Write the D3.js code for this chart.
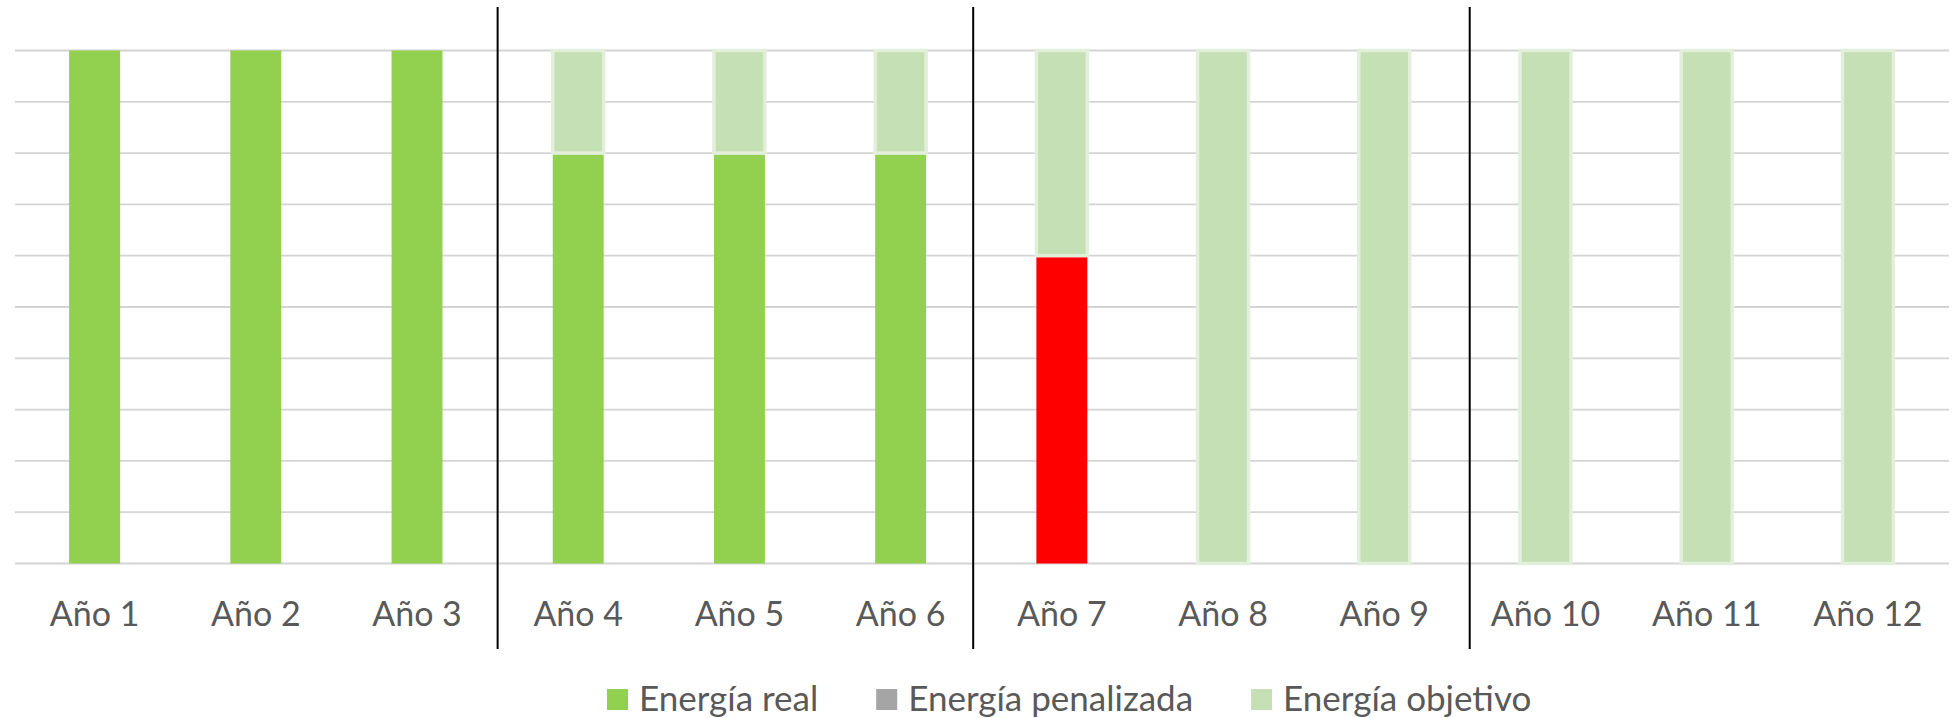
<!DOCTYPE html>
<html>
<head>
<meta charset="utf-8">
<script src="https://cdn.jsdelivr.net/npm/d3@7"></script>
<style>
    body { margin: 0; background: #ffffff; }
    text { font-family: Lato, "Open Sans", sans-serif; fill: #595959; }
</style>
</head>
<body>
<div id="chart"></div>
<script>
// data
var years = ["Año 1", "Año 2", "Año 3", "Año 4", "Año 5", "Año 6",
    "Año 7", "Año 8", "Año 9", "Año 10", "Año 11", "Año 12"];
var energiaReal = [10, 10, 10, 8, 8, 8, 6, 0, 0, 0, 0, 0];
var energiaPenalizada = [0, 0, 0, 0, 0, 0, 0, 0, 0, 0, 0, 0];
var energiaObjetivo = [0, 0, 0, 2, 2, 2, 4, 10, 10, 10, 10, 10];
var yTicks = [0, 1, 2, 3, 4, 5, 6, 7, 8, 9, 10];
// year whose real energy is shown in red
var redYears = ["Año 7"];
// separators between groups, in category steps from the left
var dividers = [3, 5.95, 9.03];
var seriesNames = ["Energía real", "Energía penalizada", "Energía objetivo"];
var seriesColors = ["#92d050", "#a5a5a5", "#c5e0b4"];

var width = 1952,
    height = 718;

var svg = d3.select("#chart")
    .append("svg")
    .attr("width", width)
    .attr("height", height);

// scales
var x = d3.scaleBand()
    .domain(years)
    .range([14, 1948.5])
    .paddingInner(0.684)
    .paddingOuter(0.342);

var y = d3.scaleLinear()
    .domain([0, 10])
    .range([563.5, 50.5]);

// gridlines
svg.append("g")
    .selectAll("line")
    .data(yTicks)
    .enter()
    .append("line")
    .attr("x1", 15)
    .attr("x2", 1949)
    .attr("y1", function (d) { return y(d); })
    .attr("y2", function (d) { return y(d); })
    .attr("stroke", "#d4d4d4")
    .attr("stroke-width", 1.8);

// stack the three series
var table = years.map(function (yr, i) {
    return {
        year: yr,
        real: energiaReal[i],
        penalizada: energiaPenalizada[i],
        objetivo: energiaObjetivo[i]
    };
});
var stack = d3.stack().keys(["real", "penalizada", "objetivo"]);
var layers = stack(table);

var bars = svg.append("g");

// Energía real
bars.selectAll("rect.real")
    .data(layers[0])
    .enter()
    .append("rect")
    .attr("class", "real")
    .attr("x", function (d) { return x(d.data.year); })
    .attr("width", x.bandwidth())
    .attr("y", function (d) { return y(d[1]); })
    .attr("height", function (d) { return y(d[0]) - y(d[1]); })
    .style("fill", function (d) {
        return redYears.indexOf(d.data.year) >= 0 ? "#ff0000" : seriesColors[0];
    });

// Energía penalizada (all zero)
bars.selectAll("rect.pen")
    .data(layers[1].filter(function (d) { return d[1] > d[0]; }))
    .enter()
    .append("rect")
    .attr("class", "pen")
    .attr("x", function (d) { return x(d.data.year); })
    .attr("width", x.bandwidth())
    .attr("y", function (d) { return y(d[1]); })
    .attr("height", function (d) { return y(d[0]) - y(d[1]); })
    .style("fill", seriesColors[1]);

// Energía objetivo, with its pale outline
bars.selectAll("rect.obj")
    .data(layers[2].filter(function (d) { return d[1] > d[0]; }))
    .enter()
    .append("rect")
    .attr("class", "obj")
    .attr("x", function (d) { return x(d.data.year); })
    .attr("width", x.bandwidth())
    .attr("y", function (d) { return y(d[1]); })
    .attr("height", function (d) { return y(d[0]) - y(d[1]); })
    .style("fill", seriesColors[2])
    .style("stroke", "#e2efda")
    .style("stroke-width", 3.5);

// category labels
var xAxis = svg.append("g")
    .attr("transform", "translate(0," + y(0) + ")")
    .call(d3.axisBottom(x).tickSize(0).tickPadding(0));
xAxis.select(".domain").remove();
xAxis.selectAll("text")
    .attr("dy", null)
    .attr("y", 62)
    .style("font-family", "Lato, sans-serif")
    .style("font-size", "34px")
    .style("fill", "#595959");

// vertical separators
var step = d3.scaleLinear()
    .domain([0, years.length])
    .range(x.range());
svg.append("g")
    .selectAll("line")
    .data(dividers)
    .enter()
    .append("line")
    .attr("x1", function (d) { return step(d); })
    .attr("x2", function (d) { return step(d); })
    .attr("y1", 7)
    .attr("y2", 649)
    .attr("stroke", "#000000")
    .attr("stroke-width", 2);

// legend
var legend = svg.append("g");
var lx = 607;
seriesNames.forEach(function (name, i) {
    legend.append("rect")
        .attr("x", lx)
        .attr("y", 689)
        .attr("width", 21)
        .attr("height", 21)
        .style("fill", seriesColors[i]);
    var t = legend.append("text")
        .attr("x", lx + 32)
        .attr("y", 711)
        .style("font-size", "35px")
        .text(name);
    lx += 32 + t.node().getComputedTextLength() + 58;
});
</script>
</body>
</html>
